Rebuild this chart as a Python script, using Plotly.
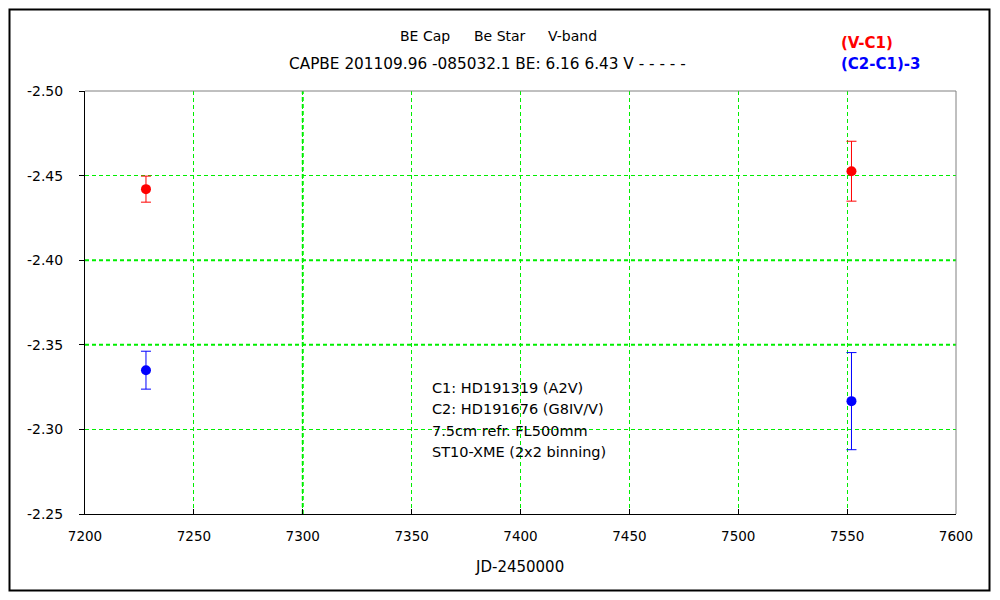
import plotly.graph_objects as go

# Data
jd = [7228.0, 7552.0]
v_c1 = [-2.442, -2.4526]
v_c1_err = [0.0077, 0.0177]
c2_c1 = [-2.335, -2.3167]
c2_c1_err = [0.0112, 0.0287]

title_words = ["BE Cap", "Be Star", "V-band"]
title2 = "CAPBE 201109.96 -085032.1 BE: 6.16 6.43 V - - - - -"
notes = ["C1: HD191319 (A2V)", "C2: HD191676 (G8IV/V)", "7.5cm refr. FL500mm", "ST10-XME (2x2 binning)"]
x_ticks = [7200, 7250, 7300, 7350, 7400, 7450, 7500, 7550, 7600]
y_ticks = [-2.50, -2.45, -2.40, -2.35, -2.30, -2.25]

FONT = "DejaVu Sans, sans-serif"
GREEN = "#00ee00"

# figure geometry (page is offset by the 8px body margin)
W, H = 992, 592
L, R, T, B = 77, 44, 83, 86
PW, PH = W - L - R, H - T - B


def px(xp):  # page x -> paper
    return (xp - 8 - L) / PW


def py(yp):  # page y -> paper
    return (H - B - (yp - 8)) / PH


fig = go.Figure()
fig.add_trace(go.Scatter(
    x=jd, y=v_c1, mode="markers", name="(V-C1)",
    marker=dict(color="#ff0000", size=10),
    error_y=dict(type="data", array=v_c1_err, color="#ff0000", thickness=1, width=5),
    showlegend=False))
fig.add_trace(go.Scatter(
    x=jd, y=c2_c1, mode="markers", name="(C2-C1)-3",
    marker=dict(color="#0000ff", size=10),
    error_y=dict(type="data", array=c2_c1_err, color="#0000ff", thickness=1, width=5),
    showlegend=False))

shapes = []
shapes.append(dict(type="line", xref="x", yref="paper", x0=7300, x1=7300, y0=0, y1=1,
                   line=dict(color=GREEN, width=2, dash="4px,3px"), layer="below"))
for yv in [-2.40, -2.35]:
    shapes.append(dict(type="line", xref="paper", yref="y", x0=0, x1=1, y0=yv, y1=yv,
                       line=dict(color=GREEN, width=2, dash="4px,3px"), layer="below"))
shapes.append(dict(type="line", xref="paper", yref="paper", x0=0, x1=1, y0=1, y1=1,
                   line=dict(color="#808080", width=1)))
shapes.append(dict(type="line", xref="paper", yref="paper", x0=1, x1=1, y0=0, y1=1,
                   line=dict(color="#808080", width=1)))
shapes.append(dict(type="rect", xref="paper", yref="paper",
                   x0=px(9.5), x1=px(989.5), y0=py(590.5), y1=py(9.5),
                   line=dict(color="black", width=2), fillcolor="rgba(0,0,0,0)"))

annotations = []
for word, cx in zip(title_words, [425, 500, 572]):
    annotations.append(dict(text=word, xref="paper", yref="paper", x=px(cx), y=py(36),
                            showarrow=False, font=dict(size=14, color="black", family=FONT),
                            xanchor="center", yanchor="middle"))
annotations.append(dict(text=title2, xref="paper", yref="paper", x=px(487), y=py(64),
                        showarrow=False, font=dict(size=15.3, color="black", family=FONT),
                        xanchor="center", yanchor="middle"))
annotations.append(dict(text="<b>(V-C1)</b>", xref="paper", yref="paper", x=px(839), y=py(43),
                        showarrow=False, font=dict(size=15, color="#ff0000", family=FONT),
                        xanchor="left", yanchor="middle"))
annotations.append(dict(text="<b>(C2-C1)-3</b>", xref="paper", yref="paper", x=px(839), y=py(64),
                        showarrow=False, font=dict(size=15, color="#0000ff", family=FONT),
                        xanchor="left", yanchor="middle"))
for i, t in enumerate(notes):
    annotations.append(dict(text=t, xref="paper", yref="paper", x=px(430),
                            y=py(388 + 21.3 * i), showarrow=False,
                            font=dict(size=14.5, color="black", family=FONT),
                            xanchor="left", yanchor="middle"))
annotations.append(dict(text="JD-2450000", xref="paper", yref="paper", x=px(519), y=py(567),
                        showarrow=False, font=dict(size=15, color="black", family=FONT),
                        xanchor="center", yanchor="middle"))

fig.update_layout(
    width=W, height=H,
    margin=dict(l=L, r=R, t=T, b=B, pad=0),
    paper_bgcolor="white", plot_bgcolor="white",
    font=dict(family=FONT, size=13, color="black"),
    shapes=shapes, annotations=annotations,
    xaxis=dict(range=[7200, 7600], tickvals=x_ticks, ticktext=[str(v) for v in x_ticks],
               showgrid=True, gridcolor=GREEN, gridwidth=1, griddash="4px,3px",
               showline=True, linecolor="black", linewidth=1, ticks="inside", ticklen=5,
               tickcolor="black", zeroline=False, mirror=False, ticklabelstandoff=10,
               tickfont=dict(size=13.5, family=FONT)),
    yaxis=dict(range=[-2.25, -2.50], autorange=False, tickvals=y_ticks,
               ticktext=["%.2f" % v for v in y_ticks],
               showgrid=True, gridcolor=GREEN, gridwidth=1, griddash="4px,3px",
               showline=True, linecolor="black", linewidth=1, ticks="outside", ticklen=5,
               tickcolor="black", zeroline=False, mirror=False, ticklabelstandoff=13,
               tickfont=dict(size=14, family=FONT)),
)

fig.write_html("out.html")
